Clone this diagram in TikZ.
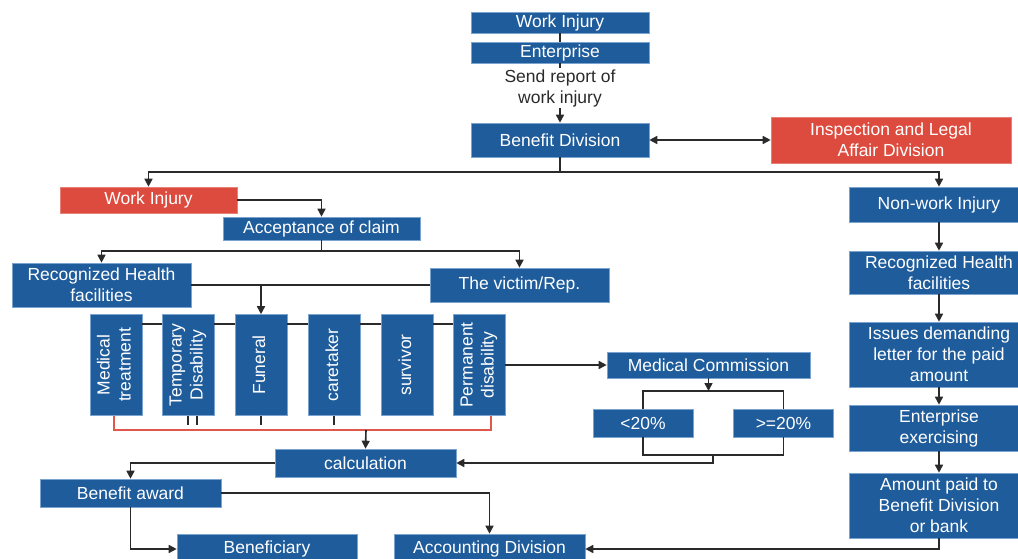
\documentclass[tikz,border=0pt]{standalone}
\usepackage{fontspec}
\setmainfont{Liberation Sans}
\usepackage{graphicx}
\usepackage{tikz}
\usetikzlibrary{arrows.meta,calc}
\definecolor{boxblue}{HTML}{1F5C9B}
\definecolor{boxedge}{HTML}{7AA3CF}
\definecolor{boxred}{HTML}{DD4B3E}
\definecolor{ink}{HTML}{2A2A2A}
\definecolor{redline}{HTML}{E0584B}

\begin{document}
\begin{tikzpicture}[x=1pt,y=-1pt,font=\fontsize{17.5}{21}\selectfont,
 box/.style={fill=boxblue,draw=boxedge,line width=0.6pt,text=white,align=center,inner sep=0pt},
 rbox/.style={box,fill=boxred,draw=boxred!70!white},
 conn/.style={draw=ink,line width=1.6pt},
 arr/.style={conn,-{Triangle[length=8pt,width=8pt]}},
 darr/.style={conn,{Triangle[length=8pt,width=8pt]}-{Triangle[length=8pt,width=8pt]}},
 redl/.style={draw=redline,line width=1.4pt}]
\useasboundingbox (0,0) rectangle (1018,559);
\clip (0,0) rectangle (1018,559);
% top of the chart
\node[box,minimum width=178pt,minimum height=21pt] (wi) at (560,22.5) {Work Injury};
\node[box,minimum width=178pt,minimum height=21pt] (ent) at (560,52.5) {Enterprise};
\node[align=center,inner sep=1pt,text=ink] (rep) at (560,88) {Send report of\\work injury};
\node[box,minimum width=178pt,minimum height=34pt] (bd) at (560,140) {Benefit Division};
\node[rbox,minimum width=240pt,minimum height=46pt] (ild) at (891,140) {Inspection and Legal\\Affair Division};
% work injury branch
\node[rbox,minimum width=177pt,minimum height=26pt] (wir) at (148.5,200) {Work Injury};
\node[box,minimum width=197pt,minimum height=23pt] (acc) at (321.5,228.5) {Acceptance of claim};
\node[box,minimum width=179pt,minimum height=44pt] (rhl) at (101.5,285) {Recognized Health\\facilities};
\node[box,minimum width=179pt,minimum height=34pt] (vic) at (519.5,285) {The victim/Rep.};
\foreach \x/\nm/\lab in {116/mt/Medical\\treatment,188/td/Temporary\\Disability,261/fun/Funeral,334/care/caretaker,407/surv/survivor,479/pd/Permanent\\disability}
  \node[box,minimum width=52pt,minimum height=101pt] (\nm) at (\x,365) {\rotatebox{90}{\begin{tabular}{@{}c@{}}\lab\end{tabular}}};
\node[box,minimum width=203pt,minimum height=26pt] (mc) at (708.5,365) {Medical Commission};
\node[box,minimum width=100pt,minimum height=28pt] (lo) at (643,423) {<20\%};
\node[box,minimum width=100pt,minimum height=28pt] (hi) at (783.5,423) {>=20\%};
\node[box,minimum width=181pt,minimum height=28pt] (calc) at (365.5,463) {calculation};
\node[box,minimum width=181pt,minimum height=28pt] (ba) at (130.5,493) {Benefit award};
\node[box,minimum width=180pt,minimum height=30pt] (ben) at (267,549) {Beneficiary};
\node[box,minimum width=191pt,minimum height=30pt] (acd) at (489.5,549) {Accounting Division};
% non-work injury branch
\node[box,minimum width=180pt,minimum height=35pt] (nwi) at (939,204.5) {Non-work Injury};
\node[box,minimum width=180pt,minimum height=43pt] (rhr) at (939,272.5) {Recognized Health\\facilities};
\node[box,minimum width=180pt,minimum height=65pt] (iss) at (939,354.5) {Issues demanding\\letter for the paid\\amount};
\node[box,minimum width=180pt,minimum height=46pt] (ee) at (939,428) {Enterprise\\exercising};
\node[box,minimum width=180pt,minimum height=65pt] (amt) at (939,505.5) {Amount paid to\\Benefit Division\\or bank};
% split points
\coordinate (bsplit) at (560,172);
\coordinate (asplit) at (321.5,251);
\coordinate (mcsplit) at (708.5,391);
\coordinate (pcbot) at (713,455);
\coordinate (redmid) at (366,430);
% connectors
\draw[conn] (wi.south) -- (ent.north);
\draw[conn] (ent.south) -- (rep.north);
\draw[arr] (rep.south) -- (bd.north);
\draw[darr] (bd.east) -- (ild.west);
\draw[conn] (bd.south) -- (bsplit);
\draw[arr] (bsplit) -| (wir.north);
\draw[arr] (bsplit) -| (nwi.north);
\draw[arr] (wir.east) -| (acc.north);
\draw[conn] (acc.south) -- (asplit);
\draw[arr] (asplit) -| (rhl.north);
\draw[arr] (asplit) -| (vic.north);
\draw[conn] (rhl.east) -- (vic.west);
\draw[arr] (rhl.east -| fun.north) -- (fun.north);
\foreach \a/\b in {mt/td,td/fun,fun/care,care/surv,surv/pd}
  \draw[conn] ([yshift=-10pt]\a.north east) -- ([yshift=-10pt]\b.north west);
\draw[redl] ([xshift=-2pt]mt.south) |- (redmid) -| ([xshift=12pt]pd.south);
\foreach \t in {td,fun,care} \draw[conn] (\t.south) -- ++(0,9);
\draw[conn] ([xshift=9pt]td.south) -- ++(0,9);
\draw[arr] (redmid) -- (calc.north);
\draw[arr] (pd.east) -- (mc.west);
\draw[arr] (mc.south) -- (mcsplit);
\draw[conn] (lo.north) |- (mcsplit) -| (hi.north);
\draw[conn] (lo.south) |- (pcbot) -| (hi.south);
\draw[arr] (pcbot) |- (calc.east);
\draw[arr] (calc.west) -| (ba.north);
\draw[arr] (ba.east) -| (acd.north);
\draw[arr] (ba.south) |- (ben.west);
\draw[arr] (nwi.south) -- (rhr.north);
\draw[arr] (rhr.south) -- (iss.north);
\draw[arr] (iss.south) -- (ee.north);
\draw[arr] (ee.south) -- (amt.north);
\draw[arr] (amt.south) |- (acd.east);
\end{tikzpicture}
\end{document}
